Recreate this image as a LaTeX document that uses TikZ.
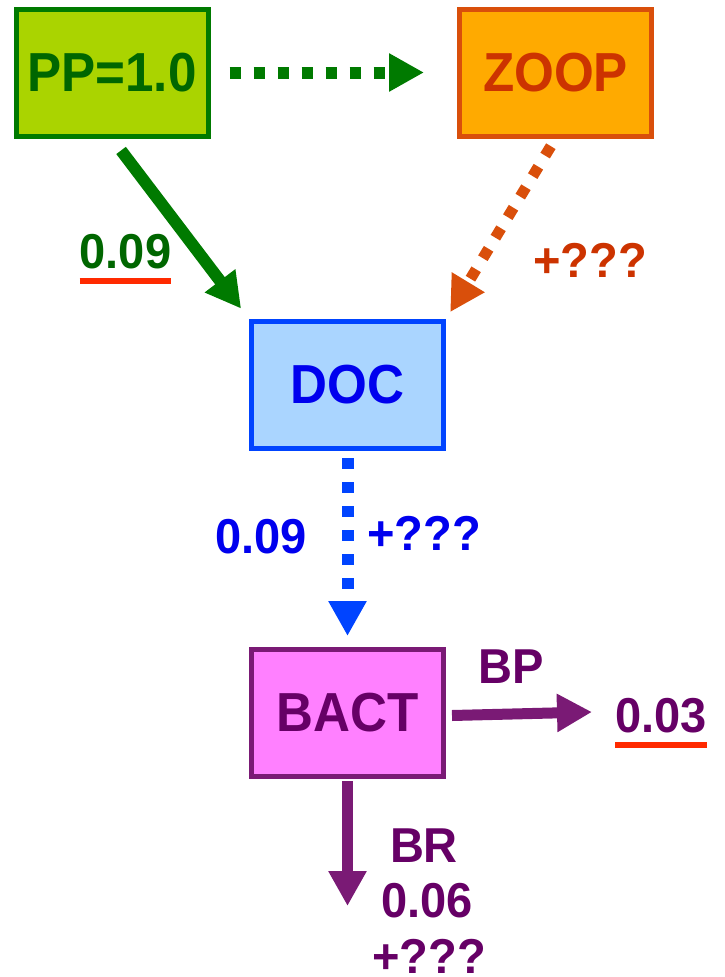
\documentclass[tikz,border=0pt]{standalone}
\usepackage{fontspec}
\setmainfont{Liberation Sans}
\newfontfamily\poolfont[FakeStretch=0.93]{Liberation Sans}
\newfontfamily\fluxfont[FakeStretch=0.96]{Liberation Sans}
\usetikzlibrary{arrows.meta,calc}

% pool colours
\definecolor{ppfill}{HTML}{AAD400}
\definecolor{ppline}{HTML}{007A00}
\definecolor{pptext}{HTML}{006600}
\definecolor{zpfill}{HTML}{FFAA00}
\definecolor{zpline}{HTML}{D94F0B}
\definecolor{zptext}{HTML}{CC3300}
\definecolor{docfill}{HTML}{AAD5FF}
\definecolor{docline}{HTML}{0044FF}
\definecolor{doctext}{HTML}{0000EE}
\definecolor{bactfill}{HTML}{FF80FF}
\definecolor{bactline}{HTML}{7A1A75}
\definecolor{bacttext}{HTML}{660066}
\definecolor{ulred}{HTML}{FF2A00}

\begin{document}
\begin{tikzpicture}[x=1pt,y=-1pt,
  pool/.style={draw,line width=5pt,minimum width=192pt,minimum height=127pt,
    inner sep=0pt,font=\poolfont\fontsize{55}{55}\selectfont\bfseries},
  flux/.style={inner sep=0pt,anchor=base,font=\fluxfont\fontsize{49}{49}\selectfont\bfseries},
  flowtip/.style={-{Triangle[length=35pt,width=36pt]}},
  dots/.style={dash pattern=on 11pt off 13pt},
  underl/.style={draw=ulred,line width=6pt}]
\useasboundingbox (0,0) rectangle (725,977);

% pools
\node[pool,fill=ppfill,draw=ppline,text=pptext] (pp) at (112,72.5) {PP=1.0};
\node[pool,fill=zpfill,draw=zpline,text=zptext] (zoop) at (555.5,72.5) {ZOOP};
\node[pool,fill=docfill,draw=docline,text=doctext] (doc) at (347.5,385) {DOC};
\node[pool,fill=bactfill,draw=bactline,text=bacttext] (bact) at (347.5,713) {BACT};

% free ends of the bacterial fluxes
\coordinate (bpend) at (592,712);
\coordinate (brend) at (347.5,906);

% fluxes
\draw[flowtip,dots,line width=12pt,ppline,shorten <=19pt,shorten >=33pt] (pp.east) -- (zoop.west);
\draw[flowtip,line width=12pt,ppline,shorten <=15pt,shorten >=13pt] (pp.south) -- (doc.north west);
\draw[flowtip,dots,line width=11pt,zpline,shorten <=9pt,shorten >=8pt] (zoop.south) -- (doc.north east);
\draw[flowtip,dots,line width=12pt,docline,shorten <=7pt,shorten >=11pt] (doc.south) -- (bact.north);
\draw[flowtip,line width=11pt,bactline] ($(bact.east)+(6,2.5)$) -- (bpend);
\draw[flowtip,line width=11pt,bactline,shorten <=2pt] (bact.south) -- (brend);

% flux labels
\node[flux,text=pptext] (g009) at (125.5,268) {0.09};
\draw[underl] ([yshift=-13pt]g009.base west) -- ([yshift=-13pt]g009.base east);
\node[flux,text=zptext] (zq) at (590,277) {+???};
\node[flux,text=doctext] (b009) at (261,553) {0.09};
\node[flux,text=doctext] (bq) at (424,550) {+???};
\node[flux,text=bacttext] (bp) at (511.5,683) {BP};
\node[flux,text=bacttext] (b003) at (661,732) {0.03};
\draw[underl] ([yshift=-12.5pt]b003.base west) -- ([yshift=-12.5pt]b003.base east);
\node[flux,text=bacttext] (br) at (424,862) {BR};
\node[flux,text=bacttext] (b006) at (427,917) {0.06};
\node[flux,text=bacttext] (brq) at (429,973) {+???};
\end{tikzpicture}
\end{document}
